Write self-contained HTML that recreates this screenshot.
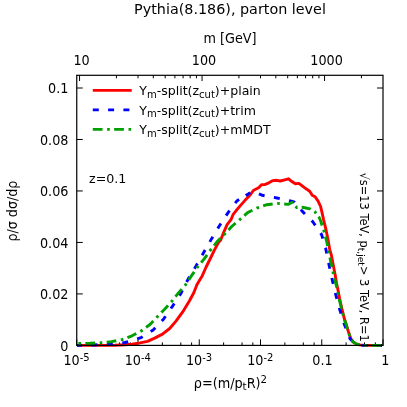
<!DOCTYPE html>
<html><head><meta charset="utf-8"><title>Pythia(8.186), parton level</title>
<style>
html,body{margin:0;padding:0;background:#fff;}
svg{display:block;}
text{font-family:"DejaVu Sans","Liberation Sans",sans-serif;fill:#000;}
</style></head><body>
<svg width="407" height="407" viewBox="0 0 407 407">
<rect width="407" height="407" fill="#fff"/>

<text transform="translate(230.00,14.00) scale(0.963,1)" font-size="14.90" text-anchor="middle">Pythia(8.186), parton level</text>
<text transform="translate(230.00,43.40) scale(0.963,1)" font-size="13.29" text-anchor="middle">m [GeV]</text>
<text transform="translate(81.55,65.20) scale(0.963,1)" font-size="13.29" text-anchor="middle">10</text>
<text transform="translate(204.05,65.20) scale(0.963,1)" font-size="13.29" text-anchor="middle">100</text>
<text transform="translate(326.55,65.20) scale(0.963,1)" font-size="13.29" text-anchor="middle">1000</text>
<text transform="translate(68.40,350.60) scale(0.963,1)" font-size="13.29" text-anchor="end">0</text>
<text transform="translate(68.40,299.12) scale(0.963,1)" font-size="13.29" text-anchor="end">0.02</text>
<text transform="translate(68.40,247.64) scale(0.963,1)" font-size="13.29" text-anchor="end">0.04</text>
<text transform="translate(68.40,196.16) scale(0.963,1)" font-size="13.29" text-anchor="end">0.06</text>
<text transform="translate(68.40,144.68) scale(0.963,1)" font-size="13.29" text-anchor="end">0.08</text>
<text transform="translate(68.40,93.20) scale(0.963,1)" font-size="13.29" text-anchor="end">0.1</text>
<text transform="translate(76.50,365.10) scale(0.963,1)" font-size="13.29" text-anchor="middle">10<tspan dy="-4" font-size="10.38">-5</tspan></text>
<text transform="translate(137.75,365.10) scale(0.963,1)" font-size="13.29" text-anchor="middle">10<tspan dy="-4" font-size="10.38">-4</tspan></text>
<text transform="translate(199.00,365.10) scale(0.963,1)" font-size="13.29" text-anchor="middle">10<tspan dy="-4" font-size="10.38">-3</tspan></text>
<text transform="translate(260.25,365.10) scale(0.963,1)" font-size="13.29" text-anchor="middle">10<tspan dy="-4" font-size="10.38">-2</tspan></text>
<text transform="translate(322.45,365.00) scale(0.963,1)" font-size="13.29" text-anchor="middle">0.1</text>
<text transform="translate(385.20,365.00) scale(0.963,1)" font-size="13.29" text-anchor="middle">1</text>
<text transform="translate(230.40,387.90) scale(0.963,1)" font-size="13.34" text-anchor="middle">ρ=(m/p<tspan dy="2" font-size="10.70">t</tspan><tspan dy="-2">R)</tspan><tspan dy="-5.2" font-size="10.59">2</tspan></text>
<text transform="translate(16.60,211.10) rotate(-90) scale(0.963,1)" font-size="13.19" text-anchor="middle">ρ/σ dσ/dρ</text>
<text transform="translate(360.00,172.60) rotate(90) scale(0.963,1)" font-size="11.84">√s=13 TeV, p<tspan dy="2" font-size="9.45">t,jet</tspan><tspan dy="-2">&gt; 3 TeV, R=1</tspan></text>
<text transform="translate(89.00,182.90) scale(0.963,1)" font-size="13.14">z=0.1</text>
<text transform="translate(139.30,95.20) scale(0.963,1)" font-size="13.03">Y<tspan dy="2.6" font-size="10.38">m</tspan><tspan dy="-2.6">-split(z</tspan><tspan dy="2.6" font-size="10.38">cut</tspan><tspan dy="-2.6">)+plain</tspan></text>
<text transform="translate(139.30,114.70) scale(0.963,1)" font-size="13.03">Y<tspan dy="2.6" font-size="10.38">m</tspan><tspan dy="-2.6">-split(z</tspan><tspan dy="2.6" font-size="10.38">cut</tspan><tspan dy="-2.6">)+trim</tspan></text>
<text transform="translate(139.30,134.20) scale(0.963,1)" font-size="13.03">Y<tspan dy="2.6" font-size="10.38">m</tspan><tspan dy="-2.6">-split(z</tspan><tspan dy="2.6" font-size="10.38">cut</tspan><tspan dy="-2.6">)+mMDT</tspan></text>
<path stroke="#000" stroke-width="1" fill="none" d="M76.75,345.4v-6M101.12,345.4v-3M119.56,345.4v-3M130.35,345.4v-3M138.00,345.4v-6M162.37,345.4v-3M180.81,345.4v-3M191.60,345.4v-3M199.25,345.4v-6M223.62,345.4v-3M242.06,345.4v-3M252.85,345.4v-3M260.50,345.4v-6M284.87,345.4v-3M303.31,345.4v-3M314.10,345.4v-3M321.75,345.4v-6M346.12,345.4v-3M364.56,345.4v-3M375.35,345.4v-3M383.00,345.4v-6M79.55,75.3v5.7M116.43,75.3v3M138.00,75.3v3M153.30,75.3v3M165.18,75.3v3M174.88,75.3v3M183.08,75.3v3M190.18,75.3v3M196.45,75.3v3M202.05,75.3v5.7M238.93,75.3v3M260.50,75.3v3M275.80,75.3v3M287.68,75.3v3M297.38,75.3v3M305.58,75.3v3M312.68,75.3v3M318.95,75.3v3M324.55,75.3v5.7M361.43,75.3v3M76.75,293.92h6M383.0,293.92h-6M76.75,242.44h6M383.0,242.44h-6M76.75,190.96h6M383.0,190.96h-6M76.75,139.48h6M383.0,139.48h-6M76.75,88.00h6M383.0,88.00h-6"/>
<g fill="none" stroke-width="2.9" stroke-linejoin="round">
<polyline stroke="#f00" points="77.0,345.4 115.0,345.3 125.0,344.8 132.0,344.3 140.0,342.9 147.5,341.3 154.7,338.1 159.5,335.6 162.1,334.4 169.7,328.5 176.0,321.1 183.6,310.6 189.5,300.8 193.9,292.5 196.9,284.7 200.0,279.4 202.2,275.9 206.1,267.0 210.1,259.0 214.5,249.9 218.9,241.9 220.7,240.0 223.7,232.4 227.1,224.6 231.0,219.7 233.0,214.7 236.0,210.8 239.5,206.6 244.8,200.6 249.7,195.5 253.7,190.2 258.6,187.8 261.5,184.8 264.7,184.6 268.9,182.8 272.9,180.6 276.8,180.3 280.2,181.0 284.7,179.8 288.6,178.8 291.5,181.3 295.3,183.8 298.9,183.4 304.8,187.8 309.7,191.3 312.2,195.2 315.1,196.7 318.1,201.1 320.6,206.5 322.0,212.4 323.6,219.8 326.0,229.7 328.0,239.5 329.7,249.3 331.3,254.8 333.2,264.7 335.1,274.5 336.6,283.5 338.2,291.0 339.8,299.7 342.1,309.5 344.5,319.3 345.6,322.5 348.4,331.7 350.8,338.5 353.3,342.0 356.1,343.9 359.6,344.9 364.5,345.4 382.0,345.4"/>
<path stroke="#00f" d="M77.00,345.40L82.01,345.28M91.46,345.06L93.90,345.00L97.45,344.82M106.89,344.35L109.80,344.20L112.86,343.86M122.26,342.82L125.10,342.50L128.10,341.58M137.14,338.81L141.10,337.60L142.67,336.61M150.68,331.58L153.20,330.00L155.28,327.81M161.76,320.95L163.70,318.90L165.53,316.27M170.91,308.53L172.60,306.10L174.27,303.54M179.44,295.64L181.10,293.10L182.42,290.45M186.65,282.00L188.00,279.30L189.54,276.73M194.41,268.64L196.00,266.00L197.44,263.47M202.13,255.26L203.70,252.50L205.10,250.05M209.81,241.85L211.50,238.90L212.84,236.68M217.74,228.58L219.30,226.00L220.93,223.51M226.12,215.61L227.90,212.90L229.55,210.69M235.21,203.13L236.80,201.00L239.13,199.56M245.73,195.49L248.30,193.90L250.18,192.57M258.92,193.86L259.60,194.20L262.30,195.30L264.58,195.72M273.88,197.43L277.00,198.00L279.77,198.59M289.02,200.57L291.50,201.10L294.50,202.20L294.67,202.40M300.83,209.57L302.40,211.40L304.93,213.93M311.61,220.61L313.00,222.00L315.28,225.34M320.61,233.15L321.60,234.60L322.79,238.66M325.46,247.73L325.80,248.90L326.75,253.58M328.62,262.84L329.00,264.70L329.86,268.71M331.85,277.96L332.20,279.60L333.19,283.80M335.36,293.01L335.80,294.90L336.86,298.81M339.34,307.94L339.90,310.00L341.03,313.68M343.81,322.72L344.30,324.30L345.89,328.33M349.35,337.15L350.00,338.80L352.98,341.78M361.54,345.40L367.54,345.40M376.98,345.40L382.00,345.40"/>
<path stroke="#00a000" d="M78.37,343.44L79.20,343.40L81.02,343.38M85.35,343.34L90.00,343.30L95.11,343.06M99.70,342.85L100.70,342.80L102.33,342.63M106.67,342.18L111.30,341.70L116.30,340.73M120.81,339.85L122.10,339.60L123.35,339.12M127.41,337.58L132.10,335.80L136.29,333.59M140.35,331.45L141.20,331.00L142.56,329.99M146.07,327.41L150.00,324.50L153.34,320.98M156.50,317.64L157.30,316.80L158.34,315.73M161.38,312.61L164.60,309.30L168.03,305.49M171.11,302.07L171.80,301.30L172.81,300.03M175.51,296.62L178.70,292.60L181.74,289.12M184.76,285.66L185.60,284.70L186.36,283.55M188.75,279.92L191.40,275.90L194.20,271.84M196.81,268.05L197.60,266.90L198.40,265.93M201.17,262.57L204.20,258.90L207.09,254.83M209.76,251.09L210.60,249.90L211.35,248.96M214.06,245.55L217.20,241.60L220.50,238.26M223.73,234.98L224.50,234.20L225.55,233.08M228.52,229.90L231.70,226.50L235.59,223.18M239.08,220.20L239.90,219.50L241.08,218.45M244.31,215.55L247.60,212.60L252.41,210.29M256.55,208.31L257.40,207.90L259.03,207.35M263.15,205.96L266.90,204.70L272.64,203.98M277.20,203.41L277.30,203.40L279.85,203.64M284.18,204.04L288.10,204.40L292.40,202.30L292.87,202.87M295.66,206.24L296.70,207.50L297.58,207.47M301.70,207.31L301.90,207.30L306.00,208.00L310.00,208.80L310.69,209.23M314.41,211.53L315.00,211.90L316.10,213.35M318.61,216.65L319.10,217.30L320.60,220.80L322.11,225.43M323.54,229.80L323.90,230.90L324.29,232.35M325.41,236.56L326.70,241.40L327.63,246.04M328.53,250.55L328.80,251.90L329.05,253.15M329.89,257.41L330.90,262.50L331.87,266.95M332.86,271.46L333.20,273.00L333.45,274.03M334.48,278.25L334.90,280.00L336.87,287.71M337.86,292.21L338.36,294.80M339.18,299.07L339.30,299.70L341.55,308.53M342.69,312.99L343.35,315.56M344.46,319.77L345.40,322.50L347.46,329.03M348.90,333.41L349.78,335.90M351.63,339.80L353.20,342.00L356.10,343.90L359.54,344.88M364.12,345.36L364.50,345.40L366.76,345.40M371.12,345.40L380.86,345.40"/>
<line stroke="#f00" x1="92.8" x2="131.7" y1="90.4" y2="90.4"/>
<line stroke="#00f" stroke-dasharray="6 9.3" x1="92.8" x2="131.7" y1="109.9" y2="109.9"/>
<line stroke="#00a000" stroke-dasharray="9.75 4.6 2.65 4.35" x1="92.8" x2="131.7" y1="129.4" y2="129.4"/>
</g>
<rect x="76.75" y="75.3" width="306.25" height="270.09999999999997" stroke="#000" stroke-width="1.2" fill="none"/>
</svg></body></html>
